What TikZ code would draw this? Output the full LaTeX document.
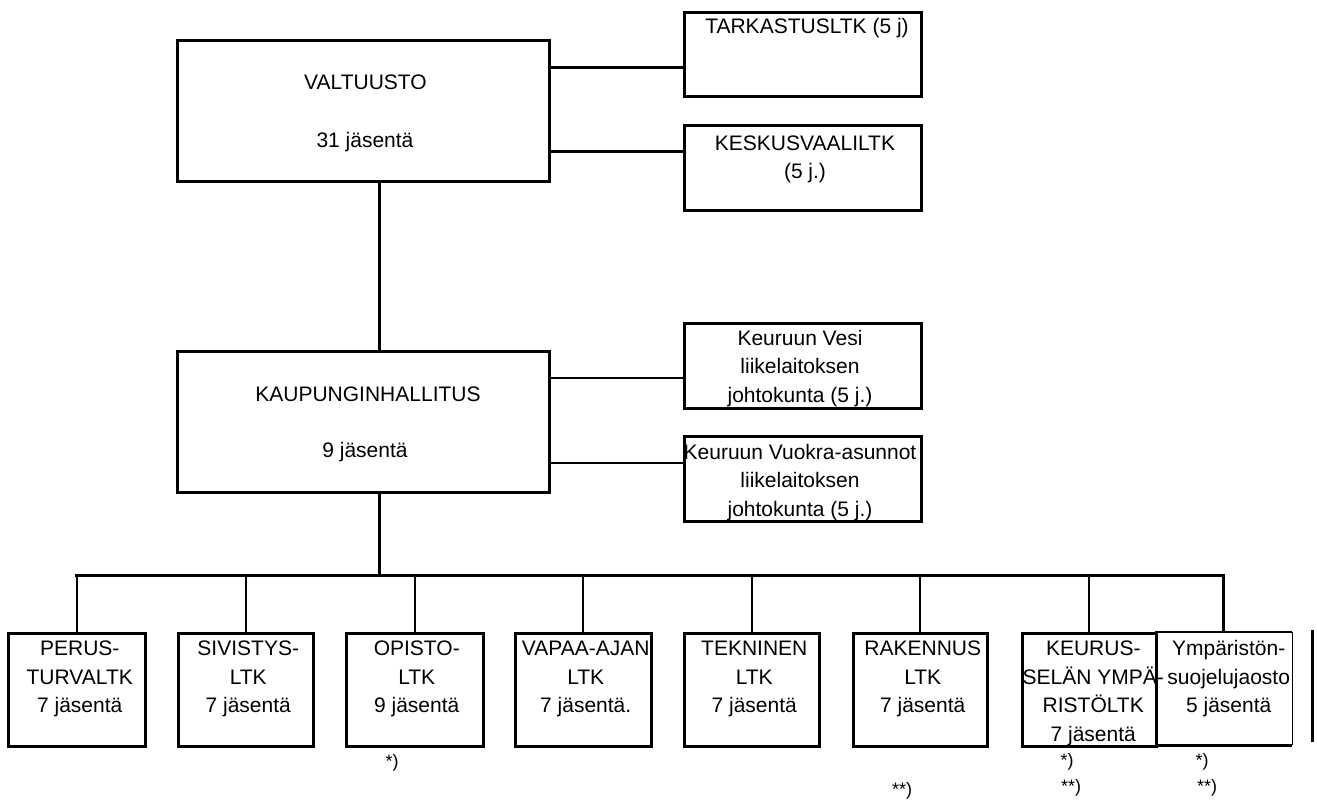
\documentclass[tikz,border=0pt]{standalone}
\usepackage{fontspec}
\setmainfont{Liberation Sans}
\begin{document}
\begin{tikzpicture}[x=1pt,y=-1pt,
  box/.style={draw, line width=2.5pt, rectangle, inner sep=0pt, anchor=north west},
  frame/.style={rectangle, inner sep=0pt, anchor=north west},
  txt/.style={font=\fontsize{21}{28.5}\selectfont, inner sep=0pt, align=center},
  tl/.style={txt, anchor=north},
  tb/.style={txt, anchor=base},
  note/.style={font=\fontsize{18}{22}\selectfont, inner sep=0pt, anchor=base},
  heavy/.style={line width=3pt},
  light/.style={line width=2pt},
  drop/.style={line width=2.3pt}]
\path[use as bounding box, fill=white] (0,0) rectangle (1317,803);
% upper boxes
\node[box, minimum width=372pt, minimum height=141pt] (V) at (176,39) {};
\node[box, minimum width=237pt, minimum height=84pt] (T) at (683,11) {};
\node[box, minimum width=237pt, minimum height=85pt] (K) at (683,124) {};
\node[box, minimum width=372pt, minimum height=141pt] (KH) at (176,350) {};
\node[box, minimum width=237pt, minimum height=85pt] (Vesi) at (683,322) {};
\node[box, minimum width=237pt, minimum height=85pt] (Vuokra) at (683,435) {};
% lower boxes
\node[box, minimum width=137pt, minimum height=113pt] (B1) at (7,632) {};
\node[box, minimum width=135pt, minimum height=113pt] (B2) at (177,632) {};
\node[box, minimum width=137pt, minimum height=113pt] (B3) at (345,632) {};
\node[box, minimum width=136pt, minimum height=113pt] (B4) at (514,632) {};
\node[box, minimum width=135pt, minimum height=113pt] (B5) at (683,632) {};
\node[box, minimum width=134pt, minimum height=113pt] (B6) at (852,632) {};
\node[box, minimum width=134pt, minimum height=113pt] (B7) at (1021,632) {};
\node[frame, minimum width=137pt, minimum height=113pt] (B8) at (1155,632) {};
\draw[light] (B8.north west) -- (B8.north east);
\draw[line width=1pt] (B8.north east) -- (B8.south east);
\draw[line width=3.2pt] (B8.south west) -- (B8.south east);
% texts
\node[tb] (Vt1) at (365.5,89.5) {VALTUUSTO};
\node[tb] (Vt2) at (365,147.5) {31 jäsentä};
\node[tb] (Tt) at (807,33) {TARKASTUSLTK (5 j)};
\node[tl] (Kt) at (805,130) {\strut KESKUSVAALILTK\\(5 j.)};
\node[tb] (KHt1) at (368,401.5) {KAUPUNGINHALLITUS};
\node[tb] (KHt2) at (365,457.5) {9 jäsentä};
\node[tl] (Vesit) at (800,325) {\strut Keuruun Vesi\\liikelaitoksen\\johtokunta (5 j.)};
\node[tl] (Vuokrat) at (800,439) {\strut Keuruun Vuokra-asunnot\\liikelaitoksen\\johtokunta (5 j.)};
\node[tl] (B1t) at ([xshift=3pt,yshift=-3.5pt]B1.north) {\strut PERUS-\\TURVALTK\\7 jäsentä};
\node[tl] (B2t) at ([xshift=2.5pt,yshift=-3.5pt]B2.north) {\strut SIVISTYS-\\LTK\\7 jäsentä};
\node[tl] (B3t) at ([xshift=2pt,yshift=-3.5pt]B3.north) {\strut OPISTO-\\LTK\\9 jäsentä};
\node[tl] (B4t) at ([xshift=2.5pt,yshift=-3.5pt]B4.north) {\strut VAPAA-AJAN\\LTK\\7 jäsentä.};
\node[tl] (B5t) at ([xshift=2.5pt,yshift=-3.5pt]B5.north) {\strut TEKNINEN\\LTK\\7 jäsentä};
\node[tl] (B6t) at ([xshift=2.5pt,yshift=-3.5pt]B6.north) {\strut RAKENNUS\\LTK\\7 jäsentä};
\node[tl] (B7t) at ([xshift=4pt,yshift=-3.5pt]B7.north) {\strut KEURUS-\\SELÄN YMPÄ-\\RISTÖLTK\\7 jäsentä};
\node[tl] (B8t) at ([xshift=5pt,yshift=-3.5pt]B8.north) {\strut Ympäristön-\\suojelujaosto\\5 jäsentä};
% notes
\node[note] (n1) at (392,767) {*)};
\node[note] (n2) at (902,795) {**)};
\node[note] (n3) at (1067,766) {*)};
\node[note] (n4) at (1071,792) {**)};
\node[note] (n5) at (1202,766) {*)};
\node[note] (n6) at (1207,792) {**)};
% connectors
\coordinate (spine) at (379,0);
\coordinate (bus) at (0,575);
\coordinate (ya) at (0,67);
\coordinate (yb) at (0,151);
\coordinate (yc) at (0,378);
\coordinate (yd) at (0,463);
\draw[heavy] (V.south -| spine) -- (KH.north -| spine);
\draw[heavy] (KH.south -| spine) -- (spine |- bus);
\draw[heavy] (V.east |- ya) -- (T.west |- ya);
\draw[heavy] (V.east |- yb) -- (K.west |- yb);
\draw[light] (KH.east |- yc) -- (Vesi.west |- yc);
\draw[light] (KH.east |- yd) -- (Vuokra.west |- yd);
\draw[heavy, line cap=rect] (B1.north |- bus) -- (B8.north |- bus);
\foreach \b in {B1,B2,B3,B4,B5,B6,B7}
  \draw[drop] (\b.north |- bus) -- (\b.north);
\draw[line width=3.5pt] (B8.north |- bus) -- (B8.north);
\coordinate (r1) at (1312,630);
\coordinate (r2) at (1312,742);
\draw[heavy] (r1) -- (r2);
\end{tikzpicture}
\end{document}
